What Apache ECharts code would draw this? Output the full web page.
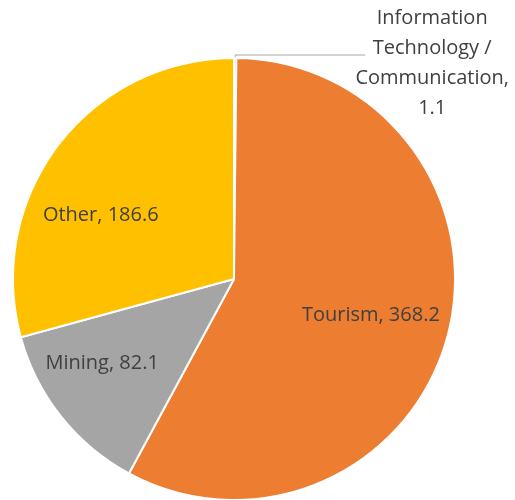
<!DOCTYPE html>
<html>
<head>
<meta charset="utf-8">
<script src="https://cdn.jsdelivr.net/npm/echarts@6/dist/echarts.min.js"></script>
<style>
  html, body { margin: 0; padding: 0; background: #fff; }
  #pie-chart { width: 515px; height: 500px; }
</style>
</head>
<body>
<div id="pie-chart"></div>
<script>
  // chart data
  const sectors = ['Information Technology / Communication', 'Tourism', 'Mining', 'Other'];
  const amounts = [1.1, 368.2, 82.1, 186.6];
  const sectorColors = ['#5B9BD5', '#ED7D31', '#A5A5A5', '#FFC000'];

  // small label shifts so the inside labels sit where the spreadsheet put them
  const labelNudge = { Tourism: [27, 8], Mining: [-43, 14], Other: [-43, 5] };

  const textColor = '#404040';

  const pieData = sectors.map((name, i) => ({
    name: name,
    value: amounts[i],
    itemStyle: { color: sectorColors[i] },
    label: i === 0
      ? { position: 'outside', padding: [16, 0, 0, 0] }
      : { position: 'inside' },
    labelLine: i === 0
      ? { show: true, length: 3, length2: 130, lineStyle: { color: '#A6A6A6', width: 1 } }
      : { show: false }
  }));

  const myChart = echarts.init(document.getElementById('pie-chart'));

  const option = {
    animation: false,
    series: [
      {
        type: 'pie',
        center: [234, 279],
        radius: 221,
        startAngle: 90,
        clockwise: true,
        avoidLabelOverlap: false,
        emphasis: { disabled: true },
        itemStyle: {
          borderColor: '#ffffff',
          borderWidth: 2
        },
        label: {
          fontFamily: 'Open Sans',
          fontSize: 20,
          color: textColor,
          formatter: (p) => {
            if (p.dataIndex === 0) {
              const txt = p.name.replace(' Technology', '\nTechnology').replace('/ ', '/\n') + ',\n' + p.value;
              return txt.split('\n').map(s => '{it|' + s + '}').join('\n');
            }
            return p.name + ', ' + p.value;
          },
          rich: {
            it: {
              width: 124,
              align: 'center',
              fontFamily: 'Open Sans',
              fontSize: 20,
              lineHeight: 30,
              color: textColor
            }
          }
        },
        labelLayout: (params) => {
          const nudge = labelNudge[sectors[params.dataIndex]];
          if (!nudge) return {};
          return { dx: nudge[0], dy: nudge[1] };
        },
        data: pieData
      }
    ]
  };

  myChart.setOption(option);
</script>
</body>
</html>
